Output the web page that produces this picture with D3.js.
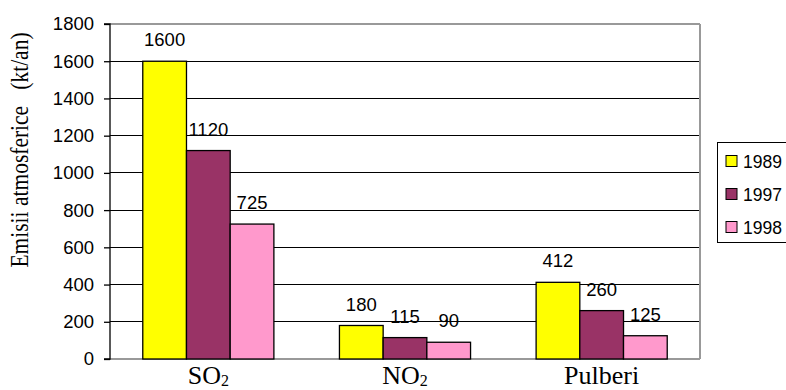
<!DOCTYPE html>
<html><head><meta charset="utf-8">
<script src="https://cdn.jsdelivr.net/npm/d3@7"></script>
<style>body{margin:0;background:#fff}svg{display:block}</style>
</head><body>
<svg id="c" width="786" height="390"></svg>
<script>
const categories = ["SO", "NO", "Pulberi"];
const categorySubs = ["2", "2", ""];
const seriesNames = ["1989", "1997", "1998"];
const values1989 = [1600, 180, 412];
const values1997 = [1120, 115, 260];
const values1998 = [725, 90, 125];
const yTicks = [0, 200, 400, 600, 800, 1000, 1200, 1400, 1600, 1800];
const colors = ["#FFFF00", "#993366", "#FF99CC"];

const seriesValues = [values1989, values1997, values1998];
const svg = d3.select("#c");
const L = 110, R = 700, T = 24, B = 359;

const y = d3.scaleLinear().domain([0, 1800]).range([B, T]);
const x0 = d3.scaleBand().domain(categories).range([L, R]).paddingInner(1/3).paddingOuter(1/6);
const x1 = d3.scaleBand().domain(seriesNames).range([0, x0.bandwidth()]).padding(0);

// gridlines
svg.append("g").selectAll("line").data(yTicks.filter(d => d > 0 && d < 1800)).join("line")
  .attr("x1", L).attr("x2", R).attr("y1", d => y(d)).attr("y2", d => y(d))
  .attr("stroke", "#000").attr("stroke-width", 1).attr("shape-rendering", "crispEdges");

// plot border (grey)
svg.append("line").attr("x1", L).attr("x2", R).attr("y1", T).attr("y2", T).attr("stroke", "#999").attr("stroke-width", 2);
svg.append("line").attr("x1", R).attr("x2", R).attr("y1", T).attr("y2", B).attr("stroke", "#999").attr("stroke-width", 2);
svg.append("line").attr("x1", L).attr("x2", R).attr("y1", B).attr("y2", B).attr("stroke", "#999").attr("stroke-width", 2);

// y axis
const yAxis = d3.axisLeft(y).tickValues(yTicks).tickSize(6).tickPadding(10).tickFormat(d3.format("d"));
const ga = svg.append("g").attr("transform", `translate(${L},0)`).call(yAxis);
ga.select(".domain").attr("stroke", "#000").attr("stroke-width", 1.3).attr("d", `M-6,${y(1800)}H0V${y(0)}H-6`);
ga.selectAll(".tick line").attr("stroke", "#000").attr("stroke-width", 1.3);
ga.selectAll(".tick text").attr("font-family", "Arial, 'Liberation Sans', sans-serif").attr("font-size", 18.5).attr("fill", "#000");

// bars
const groups = svg.append("g").selectAll("g").data(categories).join("g")
  .attr("transform", c => `translate(${x0(c)},0)`);
groups.each(function(c, ci) {
  const g = d3.select(this);
  const data = seriesNames.map((s, si) => ({s, si, v: seriesValues[si][ci]}));
  g.selectAll("rect").data(data).join("rect")
    .attr("x", d => x1(d.s)).attr("width", x1.bandwidth())
    .attr("y", d => y(d.v)).attr("height", d => y(0) - y(d.v))
    .attr("fill", d => colors[d.si]).attr("stroke", "#000").attr("stroke-width", 1.3);
  g.selectAll("text").data(data).join("text")
    .attr("x", d => x1(d.s) + x1.bandwidth() / 2).attr("y", d => y(d.v) - 15)
    .attr("text-anchor", "middle")
    .attr("font-family", "Arial, 'Liberation Sans', sans-serif").attr("font-size", 18.5)
    .text(d => d.v);
});

// x labels
const xl = svg.append("g").selectAll("text").data(categories).join("text")
  .attr("x", c => x0(c) + x0.bandwidth() / 2).attr("y", 384)
  .attr("text-anchor", "middle")
  .attr("font-family", "'Times New Roman', 'Liberation Serif', serif").attr("font-size", 26);
xl.each(function(c, i) {
  const t = d3.select(this);
  t.append("tspan").text(c);
  if (categorySubs[i]) t.append("tspan").attr("font-size", 16).attr("dy", 2).text(categorySubs[i]);
});

// y title
svg.append("text").attr("transform", "translate(28,150) rotate(-90) scale(1,1.2)")
  .attr("text-anchor", "middle").attr("xml:space", "preserve")
  .attr("font-family", "'Times New Roman', 'Liberation Serif', serif").attr("font-size", 21.5)
  .text("Emisii atmosferice   (kt/an)");

// legend
const lg = svg.append("g");
lg.append("rect").attr("x", 717.5).attr("y", 142.5).attr("width", 90).attr("height", 100)
  .attr("fill", "#fff").attr("stroke", "#000").attr("stroke-width", 1);
const ly = d3.scalePoint().domain(seriesNames).range([161, 227]);
lg.selectAll("rect.sw").data(seriesNames).join("rect").attr("class", "sw")
  .attr("x", 726).attr("y", d => ly(d) - 5.5).attr("width", 11).attr("height", 11)
  .attr("fill", (d, i) => colors[i]).attr("stroke", "#000").attr("stroke-width", 1);
lg.selectAll("text").data(seriesNames).join("text")
  .attr("x", 743).attr("y", d => ly(d) + 6.5)
  .attr("font-family", "Arial, 'Liberation Sans', sans-serif").attr("font-size", 17.5)
  .text(d => d);
</script>
</body></html>
